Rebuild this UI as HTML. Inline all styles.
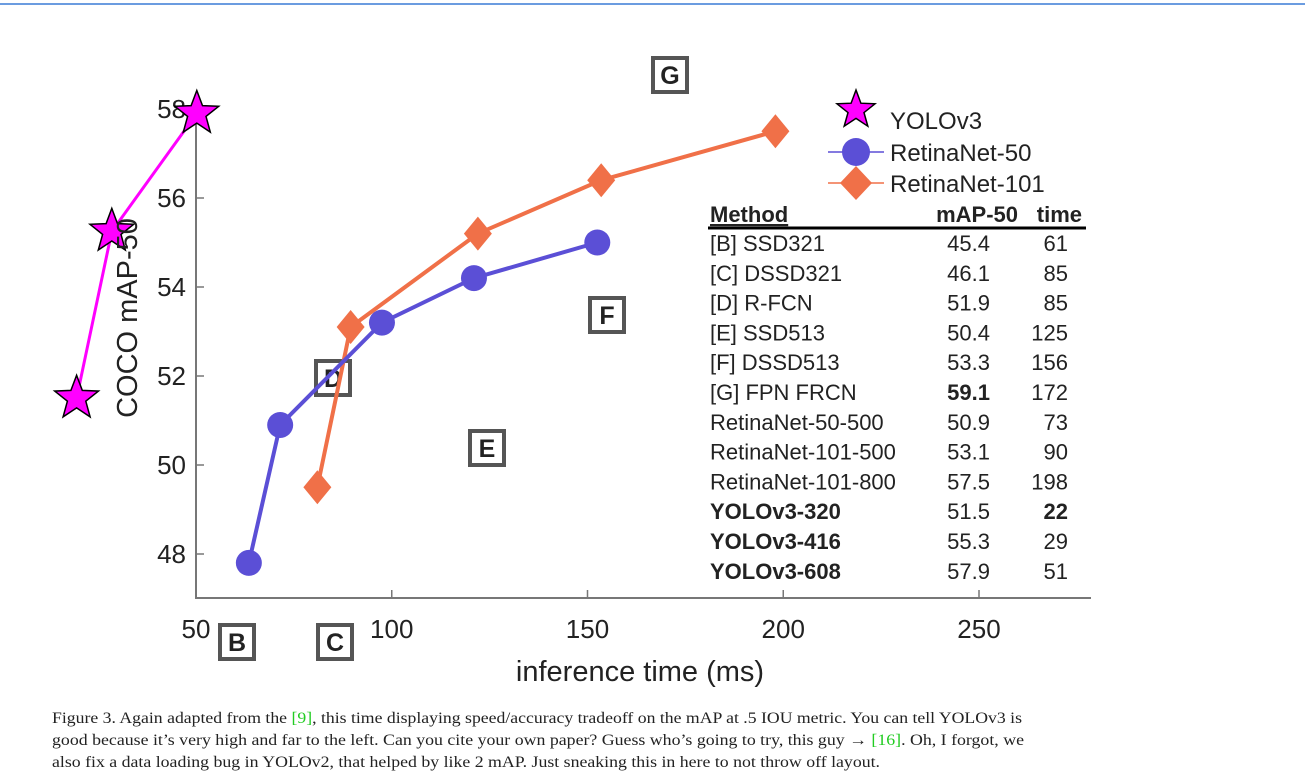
<!DOCTYPE html>
<html><head><meta charset="utf-8"><style>
body{margin:0;background:#fff;width:1305px;height:780px;overflow:hidden}
svg{display:block}
text{font-family:"Liberation Sans",sans-serif;fill:#222}
.cap{font-family:"Liberation Serif",serif;font-size:16px;fill:#222}
</style></head><body>
<svg id="chart" width="1305" height="780">
<line x1="0" y1="4" x2="1305" y2="4" stroke="#3a7bd5" stroke-width="1.5"/>
<g id="axes"></g>
<g id="marks"></g>
<g id="legend">
 <path d="" id="lgstar" fill="#f0f" stroke="#000" stroke-width="1.5"/>
 <text x="890" y="129" font-size="24">YOLOv3</text>
 <line x1="828" y1="152" x2="884" y2="152" stroke="#5b4fd6" stroke-width="1.5"/>
 <circle cx="856" cy="152" r="14" fill="#5b4fd6"/>
 <text x="890" y="161" font-size="24">RetinaNet-50</text>
 <line x1="828" y1="183" x2="884" y2="183" stroke="#f07048" stroke-width="1.5"/>
 <path d="M856 166 L872 183 L856 200 L840 183Z" fill="#f07048"/>
 <text x="890" y="192" font-size="24">RetinaNet-101</text>
</g>
<g id="table" font-size="22"></g>
<text x="640" y="681" font-size="29" text-anchor="middle">inference time (ms)</text>
<text transform="translate(137,318) rotate(-90)" font-size="29" text-anchor="middle">COCO mAP-50</text>
<g>
<text class="cap" x="52" y="723" textLength="970" lengthAdjust="spacingAndGlyphs">Figure 3. Again adapted from the <tspan fill="#2c2">[9]</tspan>, this time displaying speed/accuracy tradeoff on the mAP at .5 IOU metric. You can tell YOLOv3 is</text>
<text class="cap" x="52" y="745" textLength="972" lengthAdjust="spacingAndGlyphs">good because it’s very high and far to the left. Can you cite your own paper? Guess who’s going to try, this guy → <tspan fill="#2c2">[16]</tspan>. Oh, I forgot, we</text>
<text class="cap" x="52" y="767" textLength="828" lengthAdjust="spacingAndGlyphs">also fix a data loading bug in YOLOv2, that helped by like 2 mAP. Just sneaking this in here to not throw off layout.</text>
</g>
</svg>
<script>
const xTicks=[50,100,150,200,250];
const yTicks=[48,50,52,54,56,58];
const yoloTime=[19.5,28.5,50.2];
const yoloMap=[51.5,55.25,57.9];
const r50Time=[63.5,71.5,97.5,121,152.5];
const r50Map=[47.8,50.9,53.2,54.2,55.0];
const r101Time=[81,89.5,122,153.5,198];
const r101Map=[49.5,53.1,55.2,56.4,57.5];
const boxLabels=["B","C","D","E","F","G"];
const tMethods=["[B] SSD321","[C] DSSD321","[D] R-FCN","[E] SSD513","[F] DSSD513","[G] FPN FRCN","RetinaNet-50-500","RetinaNet-101-500","RetinaNet-101-800","YOLOv3-320","YOLOv3-416","YOLOv3-608"];
const tMap=["45.4","46.1","51.9","50.4","53.3","59.1","50.9","53.1","57.5","51.5","55.3","57.9"];
const tTime=["61","85","85","125","156","172","73","90","198","22","29","51"];
const NS="http://www.w3.org/2000/svg";
const X=v=>196+(v-50)*3.915;
const Y=v=>554-(v-48)*44.5;
function mk(tag,attrs,parent){const e=document.createElementNS(NS,tag);for(const k in attrs)e.setAttribute(k,attrs[k]);parent.appendChild(e);return e;}
const axes=document.getElementById('axes'),marks=document.getElementById('marks'),table=document.getElementById('table');
let l=mk('line',{x1:196,y1:100,x2:196,y2:598,stroke:'#777','stroke-width':2},axes);


l=mk('line',{x1:195,y1:598,x2:1091,y2:598,stroke:'#777','stroke-width':2},axes);


xTicks.forEach(v=>{
 const t=mk('line',{x1:X(v),y1:598,x2:X(v),y2:590,stroke:'#777','stroke-width':1.5},axes);
 
 
 const tx=mk('text',{x:X(v),y:638,'font-size':26,'text-anchor':'middle'},axes);tx.textContent=v;
 
 
});
yTicks.forEach(v=>{
 const t=mk('line',{x1:196,y1:Y(v),x2:204,y2:Y(v),stroke:'#777','stroke-width':1.5},axes);
 
 
 const tx=mk('text',{x:186,y:Y(v)+9,'font-size':26,'text-anchor':'end'},axes);tx.textContent=v;
 
 
});
const boxPos={B:[237,642],C:[335,642],D:[333,378],E:[487,448],F:[607,315],G:[670,75]};
boxLabels.forEach((b,i)=>{
 const p=boxPos[b];
 const g=mk('g',{},marks);
 
 
 mk('rect',{x:p[0]-17,y:p[1]-17,width:34,height:34,fill:'#fff',stroke:'#555','stroke-width':4},g);
 const t=mk('text',{x:p[0],y:p[1]+9,'font-size':25,'font-weight':'bold','text-anchor':'middle',fill:'#000'},g);t.textContent=b;
});
function star(cx,cy,R){let d='';for(let k=0;k<10;k++){const r=k%2?R*0.42:R;const a=-Math.PI/2+k*Math.PI/5;d+=(k?'L':'M')+(cx+r*Math.cos(a)).toFixed(1)+' '+(cy+r*Math.sin(a)).toFixed(1);}return d+'Z';}
function series(ts,ms,color,w,name){
 const pts=ts.map((t,i)=>X(t)+','+Y(ms[i])).join(' ');
 const p=mk('polyline',{points:pts,fill:'none',stroke:color,'stroke-width':w},marks);
 
 
}
series(r101Time,r101Map,'#f07048',4,'retinanet101');
series(r50Time,r50Map,'#5b4fd6',4,'retinanet50');
series(yoloTime,yoloMap,'#f0f',3,'yolov3');
r50Time.forEach((t,i)=>{const c=mk('circle',{cx:X(t),cy:Y(r50Map[i]),r:13,fill:'#5b4fd6'},marks);
 
 });
r101Time.forEach((t,i)=>{const x=X(t),y=Y(r101Map[i]);const c=mk('path',{d:`M${x} ${y-17}L${x+14} ${y}L${x} ${y+17}L${x-14} ${y}Z`,fill:'#f07048'},marks);
 
 });
yoloTime.forEach((t,i)=>{const c=mk('path',{d:star(X(t),Y(yoloMap[i]),23),fill:'#f0f',stroke:'#000','stroke-width':1.5},marks);
 
 });
document.getElementById('lgstar').setAttribute('d',star(856,110,20));
let h=mk('text',{x:710,y:222,'font-weight':'bold','text-decoration':'underline'},table);h.textContent='Method';
h=mk('text',{x:1018,y:222,'font-weight':'bold','text-anchor':'end'},table);h.textContent='mAP-50';
h=mk('text',{x:1082,y:222,'font-weight':'bold','text-anchor':'end'},table);h.textContent='time';
mk('line',{x1:708,y1:228,x2:1086,y2:228,stroke:'#000','stroke-width':3},table);
tMethods.forEach((m,i)=>{
 const y=251+i*29.8;const bold=i>=9;
 const r=mk('g',{},table);
 
 
 let t=mk('text',{x:710,y:y,'font-weight':bold?'bold':'normal',fill:'#000'},r);t.textContent=m;
 t=mk('text',{x:990,y:y,'text-anchor':'end','font-weight':i==5?'bold':'normal',fill:'#000'},r);t.textContent=tMap[i];
 t=mk('text',{x:1068,y:y,'text-anchor':'end','font-weight':i==9?'bold':'normal',fill:'#000'},r);t.textContent=tTime[i];
});
</script>
</body></html>
